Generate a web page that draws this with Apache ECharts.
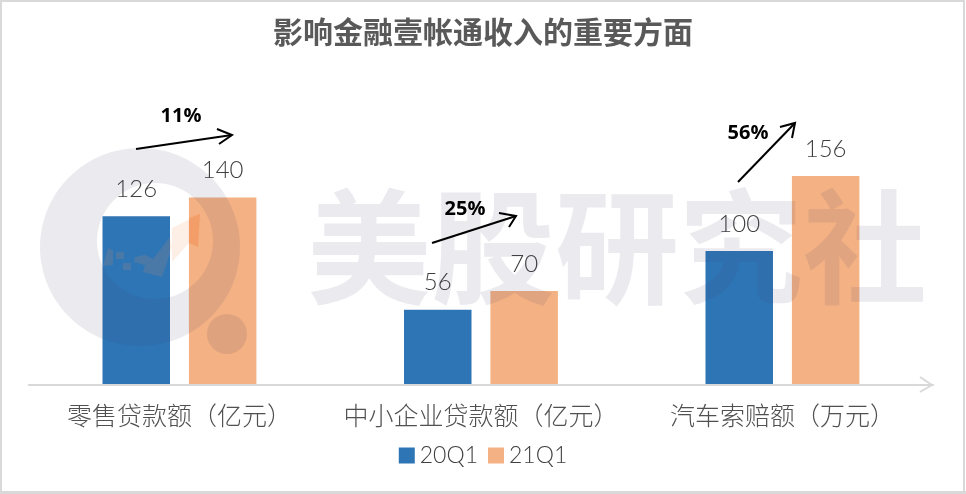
<!DOCTYPE html>
<html><head><meta charset="utf-8">
<style>html,body{margin:0;padding:0;background:#fff}#c{width:966px;height:494px}</style>
<script src="https://cdn.jsdelivr.net/npm/echarts@6/dist/echarts.min.js"></script>
</head><body><div id="c"></div>
<script>
const categories = ['零售贷款额（亿元）','中小企业贷款额（亿元）','汽车索赔额（万元）'];
const q20 = [126, 56, 100];
const q21 = [140, 70, 156];
const seriesNames = ['20Q1','21Q1'];
const growth = ['11%','25%','56%'];
const chartTitle = '影响金融壹帐通收入的重要方面';
const watermark = '美股研究社';

const cjk = '"Noto Sans CJK SC","Noto Sans",sans-serif';
const num = 'Lato,"Noto Sans",sans-serif';
const wm = 'rgba(70,70,110,0.115)';
const logoTint = 'rgba(244,150,90,0.15)';
const chart = echarts.init(document.getElementById('c'));
function arrow(x1,y1,x2,y2,p1,p2,color,w){
  return [
    {type:'line',z:30,shape:{x1,y1,x2,y2},style:{stroke:color,lineWidth:w}},
    {type:'polyline',z:30,shape:{points:[p1,[x2,y2],p2]},style:{stroke:color,lineWidth:w,fill:null}}
  ];
}
function note(t,x,y){
  return {type:'text',z:30,x,y,style:{text:t,fill:'#000',font:'bold 20px "Open Sans",sans-serif',textAlign:'center',textVerticalAlign:'middle'}};
}
function poly(points,fill){return {type:'polygon',z:20,shape:{points},style:{fill}};}
// logo ring: outer and inner circles are off-centre, drawn as one keyhole outline
function ringPoints(){
  const pts=[];
  for(let i=0;i<=120;i++){const a=i/120*2*Math.PI;pts.push([140+100*Math.cos(a),247+99*Math.sin(a)]);}
  for(let i=0;i<=120;i++){const a=-i/120*2*Math.PI;pts.push([155+58*Math.cos(a),241+58*Math.sin(a)]);}
  return pts;
}
chart.setOption({
  animation:false,
  backgroundColor:'#fff',
  title:{text:chartTitle,left:'center',top:12,textStyle:{fontFamily:cjk,fontSize:30,fontWeight:'bold',color:'#595959'}},
  legend:{data:seriesNames,bottom:22,left:'center',itemWidth:16,itemHeight:16,itemGap:10,icon:'rect',
    textStyle:{fontFamily:num,fontSize:23,fontWeight:300,color:'#404040'}},
  grid:{left:28.7,right:32.8,top:144,height:240.5},
  xAxis:{type:'category',data:categories,
    axisLine:{lineStyle:{color:'#d9d9d9',width:2}},axisTick:{show:false},
    axisLabel:{interval:0,fontFamily:cjk,fontSize:25,fontWeight:300,color:'#505050',margin:18}},
  yAxis:{type:'value',min:0,max:180,show:false,splitLine:{show:false}},
  series:[
    {name:seriesNames[0],type:'bar',data:q20,barWidth:67.5,barGap:'28%',itemStyle:{color:'#2e75b6'},
     label:{show:true,position:'top',distance:15,fontFamily:num,fontSize:24,fontWeight:300,color:'#404040'}},
    {name:seriesNames[1],type:'bar',data:q21,barWidth:67.5,itemStyle:{color:'#f4b183'},
     label:{show:true,position:'top',distance:15,fontFamily:num,fontSize:24,fontWeight:300,color:'#404040'}}
  ],
  graphic:[
    {type:'rect',z:50,shape:{x:1,y:1,width:963,height:491},style:{fill:null,stroke:'#d9d9d9',lineWidth:2}},
    {type:'line',z:50,shape:{x1:0,y1:492.5,x2:966,y2:492.5},style:{stroke:'#d9d9d9',lineWidth:3}},
    poly(ringPoints(),wm),
    {type:'circle',z:20,shape:{cx:227,cy:334,r:20},style:{fill:'rgba(110,90,100,0.16)'}},
    poly([[172,228],[200,214],[198,247],[189,243],[172,262]],logoTint),
    poly([[189,218],[200,214],[198,247],[189,243]],'rgba(244,140,80,0.45)'),
    poly([[135,257],[145,255],[153,259],[170,237],[172,247],[162,277],[143,272],[145,265],[134,262]],logoTint),
    poly([[108,248],[113,250],[113,265],[103,266]],logoTint),
    poly([[116,252],[124,252],[124,259],[116,259]],logoTint),
    poly([[123,263],[131,263],[131,270],[123,270]],logoTint),
    {type:'text',z:20,x:617,y:247,style:{text:watermark,fill:wm,font:'bold 124px "Noto Sans CJK SC",sans-serif',textAlign:'center',textVerticalAlign:'middle'}},
    ...arrow(29,385,932,385,[920,377],[932,385],'#d9d9d9',2),
    {type:'line',z:30,shape:{x1:932,y1:385,x2:920,y2:392},style:{stroke:'#d9d9d9',lineWidth:2}},
    ...arrow(136,149,232,135,[217,129],[219,144],'#000',2),
    ...arrow(432,243,516,216,[499,213],[509,227],'#000',2),
    ...arrow(738,182,795,123,[780,127],[792,138],'#000',2),
    note(growth[0],181,116),note(growth[1],465,209),note(growth[2],748,133)
  ]
});
</script></body></html>
